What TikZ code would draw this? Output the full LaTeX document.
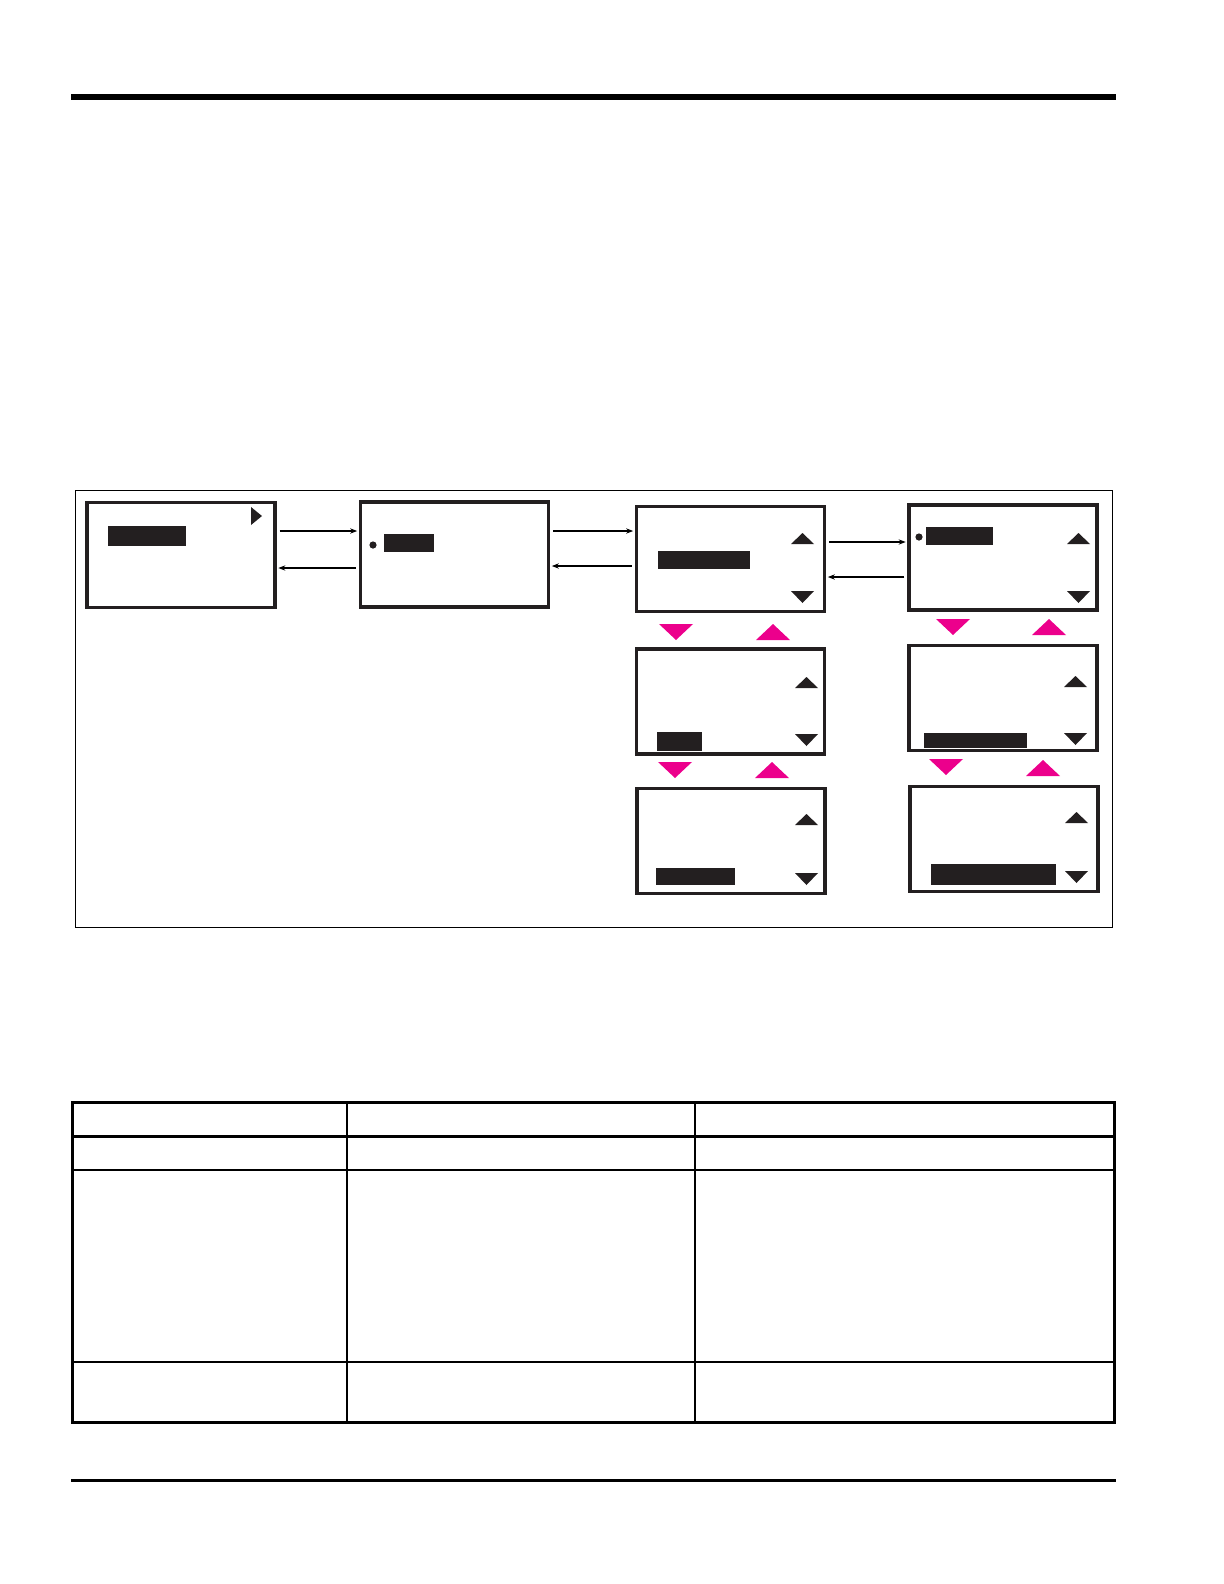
\documentclass[tikz,border=0pt]{standalone}
\usetikzlibrary{arrows.meta,calc}
\definecolor{lcd}{RGB}{35,31,32}
\definecolor{keypink}{RGB}{236,0,140}
\tikzset{
  screen/.style={draw=lcd,line width=1.7bp,minimum width=94bp,minimum height=52.5bp,inner sep=0pt},
  nav/.style={-{Stealth[length=3.5bp,width=2.6bp]},line width=.6bp,shorten <=1.5bp,shorten >=.8bp},
}
\begin{document}
\begin{tikzpicture}[x=.5bp,y=-.5bp]
    \useasboundingbox (0,0) rectangle (1224,1584);
    % page rules
    \fill (71,94) rectangle (1116,100);
    \fill (71,1479) rectangle (1116,1481.5);
    % menu frame
    \draw[line width=.75bp] (75.5,490.5) rectangle (1112.5,927.5);
    % screens
    \node[screen] (s1) at (181,555) {};
    \node[screen] (s2) at (454.5,554.5) {};
    \node[screen] (s3) at (730.5,559) {};
    \node[screen] (s4) at (1003,557.5) {};
    \node[screen] (s5) at (730.5,701.5) {};
    \node[screen] (s6) at (731,841) {};
    \node[screen] (s7) at (1003,698) {};
    \node[screen] (s8) at (1004,839) {};
    % highlighted lines
    \foreach \a/\b/\c/\d in {108/526/186/546,384/534/434/552,658/551/750/569,926/527/993/545,
                             657/732/702/751,656/868/735/885,924/733/1027/748,931/864/1056/885}
      \fill[lcd] (\a,\b) rectangle (\c,\d);
    \fill[lcd] (373,545) circle (1.8bp);
    \fill[lcd] (919,537) circle (1.8bp);
    \fill[lcd] (251,507) -- (262,516) -- (251,525) -- cycle;
    % scroll marks
    \foreach \x/\y in {791/533,1067/533,795/677,795/814,1064/676,1065/812}
      \fill[lcd] (\x,\y+11) -- ++(23,0) -- ++(-11.5,-11) -- cycle;
    \foreach \x/\y in {791/591,1067/591,795/734,795/873,1064/733,1065/871}
      \fill[lcd] (\x,\y) -- ++(23,0) -- ++(-11.5,12) -- cycle;
    % arrow keys
    \foreach \x/\y in {659/624,658/762,936/619,929/759}
      \fill[keypink] (\x,\y) -- ++(34,0) -- ++(-17,16) -- cycle;
    \foreach \x/\y in {756/624,755/762,1032/619,1026/760}
      \fill[keypink] (\x,\y+16) -- ++(34,0) -- ++(-17,-16) -- cycle;
    % enter / exit
    \coordinate (a1) at (0,531);
    \coordinate (a2) at (0,568);
    \coordinate (a3) at (0,566);
    \coordinate (a4) at (0,542);
    \coordinate (a5) at (0,577);
    \draw[nav] (s1.east |- a1) -- (s2.west |- a1);
    \draw[nav] (s2.west |- a2) -- (s1.east |- a2);
    \draw[nav] (s2.east |- a1) -- (s3.west |- a1);
    \draw[nav] (s3.west |- a3) -- (s2.east |- a3);
    \draw[nav] (s3.east |- a4) -- (s4.west |- a4);
    \draw[nav] (s4.west |- a5) -- (s3.east |- a5);
    % table
    \draw[line width=1.5bp] (72.5,1102.5) rectangle (1114.5,1422);
    \draw[line width=1.5bp] (72.5,1136.5) -- (1114.5,1136.5);
    \draw[line width=.6bp] (72.5,1170) -- (1114.5,1170) (72.5,1362) -- (1114.5,1362);
    \draw[line width=.6bp] (347,1102.5) -- (347,1422) (695,1102.5) -- (695,1422);
\end{tikzpicture}
\end{document}
